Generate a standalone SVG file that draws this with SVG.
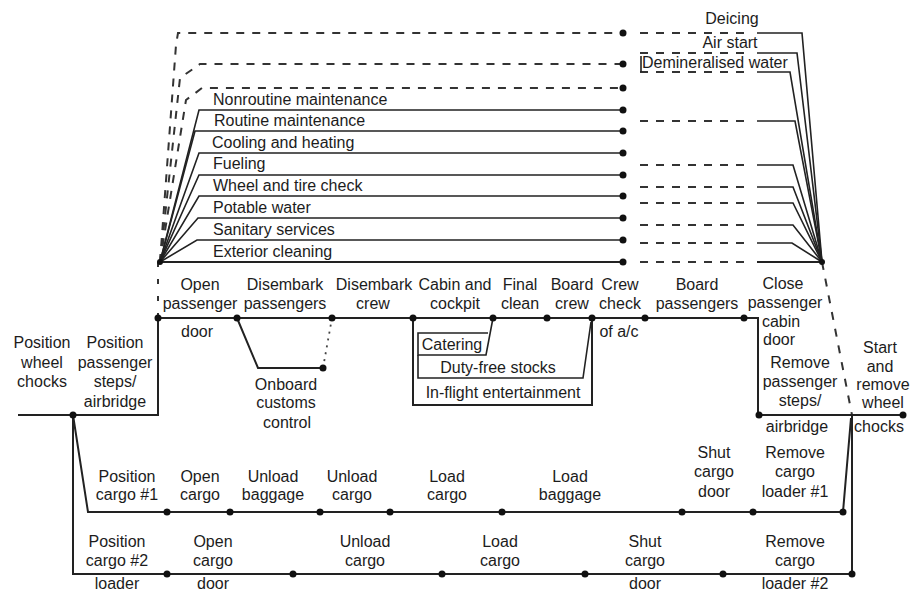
<svg xmlns="http://www.w3.org/2000/svg" width="912" height="594" viewBox="0 0 912 594">
<defs>
<style>
text{font-family:"Liberation Sans",Arial,sans-serif;font-size:16px;fill:#1c1c1c}
.m{text-anchor:middle}
.s{text-anchor:start}
.l{fill:none;stroke:#222;stroke-width:2}
.f{fill:none;stroke:#222;stroke-width:1.6}
.d{fill:none;stroke:#333;stroke-width:2;stroke-dasharray:8 8}
.dt{fill:none;stroke:#444;stroke-width:1.8;stroke-dasharray:2 5}
.dot{fill:#111}
</style>
</defs>
<rect width="912" height="594" fill="#fff"/>
<g id="connectors">
<path class="d" d="M160,262 L176,45 L178,33 H623"/>
<path class="d" d="M160,262 L180,78 L200,64 H623"/>
<path class="d" d="M160,262 L186,100 L202,88 H623"/>
<path class="f" d="M160,262 L199,110 H623"/>
<path class="f" d="M160,262 L195,131 H623"/>
<path class="f" d="M160,262 L199,153 H623"/>
<path class="f" d="M160,262 L199,175 H623"/>
<path class="f" d="M160,262 L199,196 H623"/>
<path class="f" d="M160,262 L198,218 H623"/>
<path class="f" d="M160,262 L197,240 H623"/>
<path class="l" d="M160,262 H623"/>
<path class="d" d="M640,33 H752"/>
<path class="d" d="M640,53 H752"/>
<path class="d" d="M640,72 H752"/>
<path class="d" d="M640,121 H752"/>
<path class="d" d="M640,165 H752"/>
<path class="d" d="M640,187 H752"/>
<path class="d" d="M640,203 H752"/>
<path class="d" d="M640,225 H752"/>
<path class="d" d="M640,243 H752"/>
<path class="d" d="M640,262 H752"/>
<path class="f" d="M641,56 V72"/>
<path class="f" d="M757,33 H802 L822,262"/>
<path class="f" d="M757,53 H797 L822,262"/>
<path class="f" d="M757,72 H790 L822,262"/>
<path class="f" d="M757,121 H795 L822,262"/>
<path class="f" d="M757,165 H793 L822,262"/>
<path class="f" d="M757,187 H793 L822,262"/>
<path class="f" d="M757,203 H793 L822,262"/>
<path class="f" d="M757,225 H793 L822,262"/>
<path class="f" d="M757,243 H792 L822,262"/>
<path class="l" d="M757,262 H822"/>
<path class="d" d="M158,262 V318" style="stroke-dasharray:5 12"/>
<path class="d" d="M822,262 L852,415" style="stroke-dasharray:8 9"/>
<path class="l" d="M18,415 H158 V318 H758 V415 H905"/>
<path class="l" d="M237,318 L258,368 H323"/>
<path class="dt" d="M323,368 L332,318"/>
<path class="l" d="M413,318 V405 H592 V318"/>
<path class="f" d="M418,355 V378 H583 L591,322"/>
<path class="f" d="M488,333 H418 V355 H486 L493,318"/>
<path class="l" d="M73,415 L88,512 H843 L851,418"/>
<path class="l" d="M73,415 V574 H852 V415"/>
</g>
<g id="dots">
<circle class="dot" cx="623" cy="33" r="3.5"/>
<circle class="dot" cx="623" cy="64" r="3.5"/>
<circle class="dot" cx="623" cy="88" r="3.5"/>
<circle class="dot" cx="623" cy="110" r="3.5"/>
<circle class="dot" cx="623" cy="131" r="3.5"/>
<circle class="dot" cx="623" cy="153" r="3.5"/>
<circle class="dot" cx="623" cy="175" r="3.5"/>
<circle class="dot" cx="623" cy="196" r="3.5"/>
<circle class="dot" cx="623" cy="218" r="3.5"/>
<circle class="dot" cx="623" cy="240" r="3.5"/>
<circle class="dot" cx="623" cy="262" r="3.5"/>
<circle class="dot" cx="160" cy="262" r="3"/>
<circle class="dot" cx="822" cy="262" r="3"/>
<circle class="dot" cx="158" cy="318" r="3.5"/>
<circle class="dot" cx="237" cy="318" r="3.5"/>
<circle class="dot" cx="332" cy="318" r="3.5"/>
<circle class="dot" cx="413" cy="318" r="3.5"/>
<circle class="dot" cx="493" cy="318" r="3.5"/>
<circle class="dot" cx="547" cy="318" r="3.5"/>
<circle class="dot" cx="592" cy="318" r="3.5"/>
<circle class="dot" cx="645" cy="318" r="3.5"/>
<circle class="dot" cx="744" cy="318" r="3.5"/>
<circle class="dot" cx="323" cy="368" r="3.5"/>
<circle class="dot" cx="73" cy="415" r="3.5"/>
<circle class="dot" cx="759" cy="415" r="3.5"/>
<circle class="dot" cx="903" cy="415" r="3.5"/>
<circle class="dot" cx="167" cy="512" r="3.5"/>
<circle class="dot" cx="230" cy="512" r="3.5"/>
<circle class="dot" cx="320" cy="512" r="3.5"/>
<circle class="dot" cx="390" cy="512" r="3.5"/>
<circle class="dot" cx="502" cy="512" r="3.5"/>
<circle class="dot" cx="682" cy="512" r="3.5"/>
<circle class="dot" cx="753" cy="512" r="3.5"/>
<circle class="dot" cx="843" cy="512" r="3.5"/>
<circle class="dot" cx="167" cy="574" r="3.5"/>
<circle class="dot" cx="293" cy="574" r="3.5"/>
<circle class="dot" cx="442" cy="574" r="3.5"/>
<circle class="dot" cx="585" cy="574" r="3.5"/>
<circle class="dot" cx="723" cy="574" r="3.5"/>
<circle class="dot" cx="852" cy="574" r="3.5"/>
</g>
<g id="n-deicing"><text class="m" x="732" y="24">Deicing</text></g>
<g id="n-airstart"><text class="m" x="730" y="48">Air start</text></g>
<g id="n-demin"><text class="s" x="642" y="68">Demineralised water</text></g>
<g id="n-nonroutine"><text class="s" x="213" y="105">Nonroutine maintenance</text></g>
<g id="n-routine"><text class="s" x="214" y="126">Routine maintenance</text></g>
<g id="n-cooling"><text class="s" x="212" y="148">Cooling and heating</text></g>
<g id="n-fueling"><text class="s" x="213" y="169">Fueling</text></g>
<g id="n-wheel"><text class="s" x="213" y="191">Wheel and tire check</text></g>
<g id="n-potable"><text class="s" x="213" y="213">Potable water</text></g>
<g id="n-sanitary"><text class="s" x="213" y="235">Sanitary services</text></g>
<g id="n-exterior"><text class="s" x="213" y="257">Exterior cleaning</text></g>
<g id="n-chocks"><text class="m" x="42" y="348">Position</text><text class="m" x="42" y="368">wheel</text><text class="m" x="42" y="387">chocks</text></g>
<g id="n-steps"><text class="m" x="115" y="348">Position</text><text class="m" x="115" y="368">passenger</text><text class="m" x="115" y="387">steps/</text><text class="m" x="115" y="407">airbridge</text></g>
<g id="n-opendoor"><text class="m" x="200" y="290">Open</text><text class="m" x="200" y="309">passenger</text><text class="m" x="197" y="337">door</text></g>
<g id="n-dispax"><text class="m" x="285" y="290">Disembark</text><text class="m" x="285" y="309">passengers</text></g>
<g id="n-customs"><text class="m" x="286" y="390">Onboard</text><text class="m" x="286" y="408">customs</text><text class="m" x="287" y="428">control</text></g>
<g id="n-discrew"><text class="m" x="374" y="290">Disembark</text><text class="m" x="373" y="309">crew</text></g>
<g id="n-cabin"><text class="m" x="455" y="290">Cabin and</text><text class="m" x="455" y="309">cockpit</text></g>
<g id="n-catering"><text class="m" x="452" y="350">Catering</text></g>
<g id="n-dutyfree"><text class="m" x="498" y="373">Duty-free stocks</text></g>
<g id="n-ife"><text class="m" x="503" y="398">In-flight entertainment</text></g>
<g id="n-final"><text class="m" x="520" y="290">Final</text><text class="m" x="520" y="309">clean</text></g>
<g id="n-boardcrew"><text class="m" x="572" y="290">Board</text><text class="m" x="572" y="309">crew</text></g>
<g id="n-crewcheck"><text class="m" x="620" y="290">Crew</text><text class="m" x="620" y="309">check</text><text class="m" x="619" y="337">of a/c</text></g>
<g id="n-boardpax"><text class="m" x="697" y="290">Board</text><text class="m" x="697" y="309">passengers</text></g>
<g id="n-close"><text class="m" x="783" y="289">Close</text><text class="m" x="785" y="308">passenger</text><text class="m" x="781" y="327">cabin</text><text class="m" x="779" y="345">door</text></g>
<g id="n-removesteps"><text class="m" x="800" y="368">Remove</text><text class="m" x="800" y="387">passenger</text><text class="m" x="800" y="406">steps/</text><text class="m" x="797" y="432">airbridge</text></g>
<g id="n-start"><text class="m" x="880" y="353">Start</text><text class="m" x="880" y="372">and</text><text class="m" x="883" y="390">remove</text><text class="m" x="883" y="408">wheel</text><text class="m" x="879" y="432">chocks</text></g>
<g id="n-poscargo1"><text class="m" x="127" y="482">Position</text><text class="m" x="127" y="500">cargo #1</text></g>
<g id="n-opencargo1"><text class="m" x="200" y="482">Open</text><text class="m" x="200" y="500">cargo</text></g>
<g id="n-unloadbag"><text class="m" x="273" y="482">Unload</text><text class="m" x="273" y="500">baggage</text></g>
<g id="n-unloadcargo1"><text class="m" x="352" y="482">Unload</text><text class="m" x="352" y="500">cargo</text></g>
<g id="n-loadcargo1"><text class="m" x="447" y="482">Load</text><text class="m" x="447" y="500">cargo</text></g>
<g id="n-loadbag"><text class="m" x="570" y="482">Load</text><text class="m" x="570" y="500">baggage</text></g>
<g id="n-shut1"><text class="m" x="714" y="458">Shut</text><text class="m" x="714" y="477">cargo</text><text class="m" x="714" y="497">door</text></g>
<g id="n-remove1"><text class="m" x="795" y="458">Remove</text><text class="m" x="795" y="477">cargo</text><text class="m" x="795" y="497">loader #1</text></g>
<g id="n-poscargo2"><text class="m" x="117" y="547">Position</text><text class="m" x="117" y="566">cargo #2</text><text class="m" x="117" y="589">loader</text></g>
<g id="n-opencargo2"><text class="m" x="213" y="547">Open</text><text class="m" x="213" y="566">cargo</text><text class="m" x="213" y="589">door</text></g>
<g id="n-unloadcargo2"><text class="m" x="365" y="547">Unload</text><text class="m" x="365" y="566">cargo</text></g>
<g id="n-loadcargo2"><text class="m" x="500" y="547">Load</text><text class="m" x="500" y="566">cargo</text></g>
<g id="n-shut2"><text class="m" x="645" y="547">Shut</text><text class="m" x="645" y="566">cargo</text><text class="m" x="645" y="589">door</text></g>
<g id="n-remove2"><text class="m" x="795" y="547">Remove</text><text class="m" x="795" y="566">cargo</text><text class="m" x="795" y="589">loader #2</text></g>
</svg>
